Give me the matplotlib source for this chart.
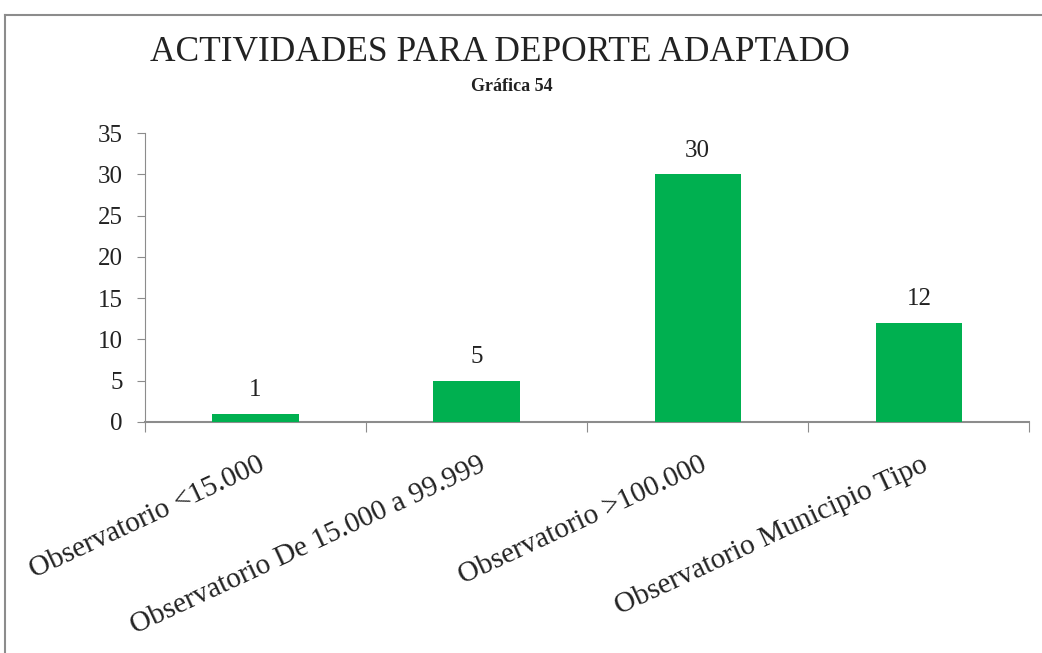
import matplotlib.pyplot as plt
from matplotlib.lines import Line2D

# Datos
categorias = ['Observatorio <15.000', 'Observatorio De 15.000 a 99.999',
              'Observatorio >100.000', 'Observatorio Municipio Tipo']
valores = [1, 5, 30, 12]
yticks = [0, 5, 10, 15, 20, 25, 30, 35]

verde = '#00B050'
gris = '#8c8c8c'
texto = '#222222'
plt.rcParams['font.family'] = ['Liberation Serif', 'DejaVu Serif']

fig = plt.figure(figsize=(10.42, 6.53), dpi=100)
ax = fig.add_axes([0.139, 0.354, 0.849, 0.442])

x = range(len(categorias))
ax.bar(x, valores, width=0.39, color=verde, zorder=3)
for xi, v in zip(x, valores):
    ax.annotate(str(v), (xi, v), xytext=(0, 9), textcoords='offset points',
                ha='center', va='bottom', fontsize=18, color=texto)

ax.set_xlim(-0.5, len(categorias) - 0.5)
ax.set_ylim(0, 35)
ax.set_yticks(yticks)
ax.set_yticklabels([str(t) for t in yticks], fontsize=18, color=texto)

# marcas del eje x entre categorías
ax.set_xticks([i - 0.5 for i in range(len(categorias) + 1)])
ax.set_xticklabels([])
ax.tick_params(axis='x', length=7, color=gris, direction='out')
ax.tick_params(axis='y', length=6, color=gris, direction='out', pad=10)
for xi, lab in zip(x, categorias):
    ax.text(xi + 0.01, -3.6, lab, rotation=25, rotation_mode='anchor',
            ha='right', va='top', fontsize=21, color=texto)

for s in ['top', 'right']:
    ax.spines[s].set_visible(False)
ax.spines['left'].set_color(gris)
ax.spines['bottom'].set_color(gris)
ax.spines['bottom'].set_linewidth(1.5)

fig.text(0.48, 0.92, 'ACTIVIDADES PARA DEPORTE ADAPTADO', ha='center', va='center',
         fontsize=25.5, color=texto)
fig.text(0.491, 0.868, 'Gráfica 54', ha='center', va='center', fontsize=13,
         fontweight='bold', color=texto)

# marco
fig.add_artist(Line2D([5/1042, 5/1042], [0, 1 - 15/653], color=gris, lw=1.5))
fig.add_artist(Line2D([5/1042, 1], [1 - 15/653, 1 - 15/653], color=gris, lw=1.5))

fig.savefig('out.png', dpi=100)
